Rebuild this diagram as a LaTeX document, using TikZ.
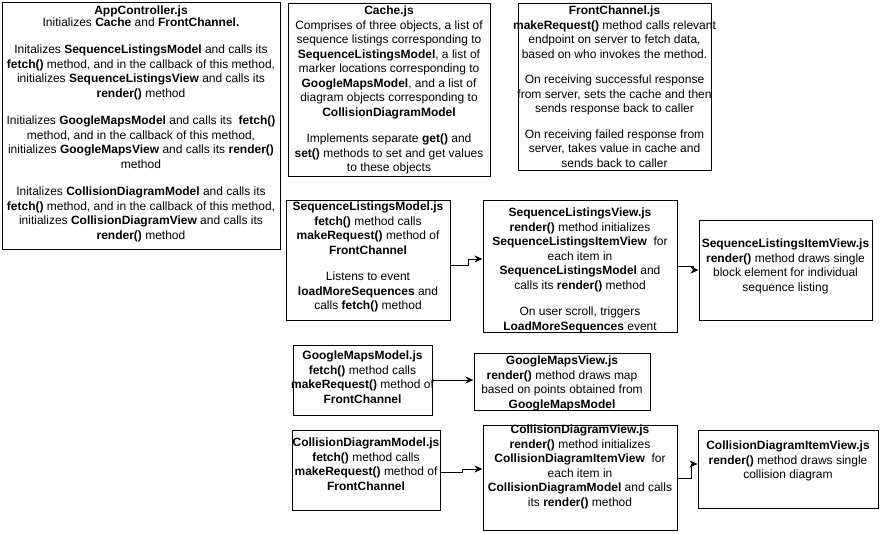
\documentclass[tikz,border=0pt]{standalone}
\usepackage{fontspec}
\setmainfont{Liberation Sans}
\usetikzlibrary{arrows.meta,calc}

\tikzset{
  box/.style={draw=black, line width=1pt, rectangle, inner sep=0pt},
  txt/.style={align=center, inner sep=0pt, anchor=north,
              font=\fontsize{12}{14.5}\selectfont},
  conn/.style={draw=black, line width=1pt,
               -{Stealth[length=8pt,width=7pt]}},
}

% box named #1 spanning the corners (#2,#3) and (#4,#5), in pixel units
\newcommand{\modbox}[5]{%
  \pgfmathsetmacro{\bw}{#4-#2}%
  \pgfmathsetmacro{\bh}{#5-#3}%
  \node[box, minimum width=\bw pt, minimum height=\bh pt]
    (#1) at ({(#2+#4)/2},{(#3+#5)/2}) {};%
}

\begin{document}
\begin{tikzpicture}[x=1pt,y=-1pt]
  \fill[white] (0,0) rectangle (881,533);
  \useasboundingbox (0,0) rectangle (881,533);

  % ---- boxes ----
  \modbox{app}{2}{2}{280}{249}
  \modbox{cache}{288}{3}{490}{176}
  \modbox{front}{518}{3}{711}{170}
  \modbox{slm}{286}{200}{450}{320}
  \modbox{slview}{483}{200}{677}{332}
  \modbox{slitem}{699}{220}{872}{320}
  \modbox{gmm}{293}{345}{432}{415}
  \modbox{gmview}{474}{353}{650}{410}
  \modbox{cdm}{292}{430}{440}{510}
  \modbox{cdview}{483}{425}{677}{530}
  \modbox{cditem}{698}{430}{878}{508}

  % ---- texts ----
  \node[txt] (appT) at (141,6) {\textbf{AppController.js}\\[-3pt]
    Initializes \textbf{Cache} and \textbf{FrontChannel.}\\[13pt]
    Initalizes \textbf{SequenceListingsModel} and calls its\\
    \textbf{fetch()} method, and in the callback of this method,\\
    initializes \textbf{SequenceListingsView} and calls its\\
    \textbf{render()} method\\[13pt]
    Initializes \textbf{GoogleMapsModel} and calls its \ \textbf{fetch()}\\
    method, and in the callback of this method,\\
    initializes \textbf{GoogleMapsView} and calls its \textbf{render()}\\
    method\\[13pt]
    Initalizes \textbf{CollisionDiagramModel} and calls its\\
    \textbf{fetch()} method, and in the callback of this method,\\
    initializes \textbf{CollisionDiagramView} and calls its\\
    \textbf{render()} method};

  \node[txt] (cacheT) at (389,6) {\textbf{Cache.js}\\
    Comprises of three objects, a list of\\
    sequence listings corresponding to\\
    \textbf{SequenceListingsModel}, a list of\\
    marker locations corresponding to\\
    \textbf{GoogleMapsModel}, and a list of\\
    diagram objects corresponding to\\
    \textbf{CollisionDiagramModel}\\[12pt]
    Implements separate \textbf{get()} and\\
    \textbf{set()} methods to set and get values\\
    to these objects};

  \node[txt] (frontT) at (614.5,6) {\textbf{FrontChannel.js}\\
    \textbf{makeRequest()} method calls relevant\\
    endpoint on server to fetch data,\\
    based on who invokes the method.\\[11pt]
    On receiving successful response\\
    from server, sets the cache and then\\
    sends response back to caller\\[11pt]
    On receiving failed response from\\
    server, takes value in cache and\\
    sends back to caller};

  \node[txt] (slmT) at (368,202) {\textbf{SequenceListingsModel.js}\\
    \textbf{fetch()} method calls\\
    \textbf{makeRequest()} method of\\
    \textbf{FrontChannel}\\[12pt]
    Listens to event\\
    \textbf{loadMoreSequences} and\\
    calls \textbf{fetch()} method};

  \node[txt] (slviewT) at (580,208) {\textbf{SequenceListingsView.js}\\
    \textbf{render()} method initializes\\
    \textbf{SequenceListingsItemView} \ for\\
    each item in\\
    \textbf{SequenceListingsModel} and\\
    calls its \textbf{render()} method\\[12pt]
    On user scroll, triggers\\
    \textbf{LoadMoreSequences} event};

  \node[txt] (slitemT) at (785.5,239) {\textbf{SequenceListingsItemView.js}\\
    \textbf{render()} method draws single\\
    block element for individual\\
    sequence listing};

  \node[txt] (gmmT) at (362.5,351) {\textbf{GoogleMapsModel.js}\\
    \textbf{fetch()} method calls\\
    \textbf{makeRequest()} method of\\
    \textbf{FrontChannel}};

  \node[txt] (gmviewT) at (562,356) {\textbf{GoogleMapsView.js}\\
    \textbf{render()} method draws map\\
    based on points obtained from\\
    \textbf{GoogleMapsModel}};

  \node[txt] (cdmT) at (366,438) {\textbf{CollisionDiagramModel.js}\\
    \textbf{fetch()} method calls\\
    \textbf{makeRequest()} method of\\
    \textbf{FrontChannel}};

  \node[txt] (cdviewT) at (580,425) {\textbf{CollisionDiagramView.js}\\
    \textbf{render()} method initializes\\
    \textbf{CollisionDiagramItemView} \ for\\
    each item in\\
    \textbf{CollisionDiagramModel} and calls\\
    its \textbf{render()} method};

  \node[txt] (cditemT) at (788,441) {\textbf{CollisionDiagramItemView.js}\\
    \textbf{render()} method draws single\\
    collision diagram};

  % ---- connectors ----
  \draw[conn] ([yshift=-5pt]slm.east) -- ++(18,0) |- ([yshift=7pt]slview.west);
  \draw[conn] (slview.east) -- ++(16,0) |- (slitem.west);
  \draw[conn] (gmm.east) -- (gmm.east -| gmview.west);
  \draw[conn] ([yshift=-2pt]cdm.east) -- ++(22,0) |- ([yshift=8.5pt]cdview.west);
  \draw[conn] ([yshift=-0.5pt]cdview.east) -- ++(14,0) |- ([yshift=5pt]cditem.west);
\end{tikzpicture}
\end{document}
